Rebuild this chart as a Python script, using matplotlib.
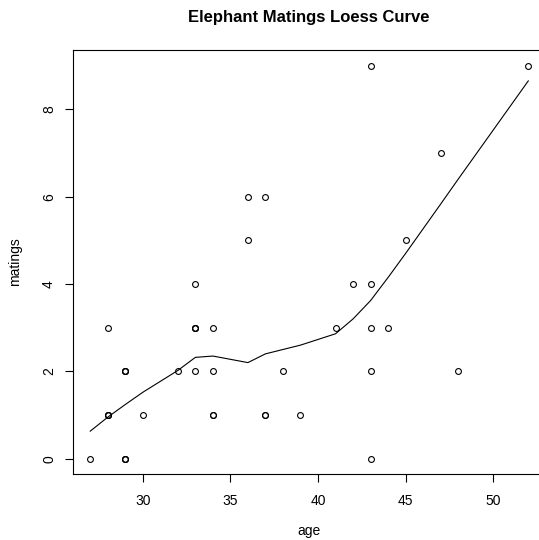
import matplotlib
matplotlib.use("Agg")
import matplotlib.pyplot as plt

plt.rcParams['font.family'] = ['Liberation Sans', 'DejaVu Sans']

# elephant data
age = [27, 28, 28, 28, 28, 29, 29, 29, 29, 29, 29, 30, 32, 33, 33, 33, 33, 33,
       34, 34, 34, 34, 36, 36, 37, 37, 37, 38, 39, 41, 42, 43, 43, 43, 43, 43,
       44, 45, 47, 48, 52]
matings = [0, 1, 1, 1, 3, 0, 0, 0, 2, 2, 2, 1, 2, 4, 3, 3, 3, 2,
           1, 1, 2, 3, 5, 6, 1, 1, 6, 2, 1, 3, 4, 0, 2, 3, 4, 9,
           3, 5, 7, 2, 9]

# loess curve
curve_x = [27, 28, 29, 30, 32, 33, 34, 36, 37, 38, 39, 41, 42, 43, 44, 45, 47, 48, 52]
curve_y = [0.63, 0.95, 1.24, 1.52, 2.02, 2.32, 2.35, 2.20, 2.40, 2.50, 2.60,
           2.86, 3.20, 3.62, 4.15, 4.70, 5.83, 6.40, 8.65]

xticks = [30, 35, 40, 45, 50]
yticks = [0, 2, 4, 6, 8]

W, H = 539, 540
fig = plt.figure(figsize=(W / 100, H / 100), dpi=100)
ax = fig.add_axes([72.7 / W, 1 - 474.4 / H, (545.8 - 72.7) / W, (474.4 - 49.9) / H])

ax.plot(age, matings, 'o', mfc='none', mec='black', ms=4.2, mew=0.8)
ax.plot(curve_x, curve_y, color='black', lw=0.8)

ax.set_xlim(26, 53)
ax.set_ylim(-0.36, 9.36)
ax.set_xticks(xticks)
ax.set_yticks(yticks)
ax.tick_params(length=6, width=0.8, labelsize=10)
ax.tick_params(axis='x', pad=8)
ax.tick_params(axis='y', pad=6)
for lab in ax.get_yticklabels():
    lab.set_rotation(90)
    lab.set_va('center')
for s in ax.spines.values():
    s.set_linewidth(0.8)

fig.text(309 / W, 1 - 17.9 / H, 'Elephant Matings Loess Curve',
         ha='center', va='center', fontsize=12, fontweight='bold')
fig.text(309 / W, 1 - 531 / H, 'age', ha='center', va='center', fontsize=10)
fig.text(15 / W, 1 - 262 / H, 'matings', ha='center', va='center',
         fontsize=10, rotation=90)

fig.savefig('out.png', dpi=100)
